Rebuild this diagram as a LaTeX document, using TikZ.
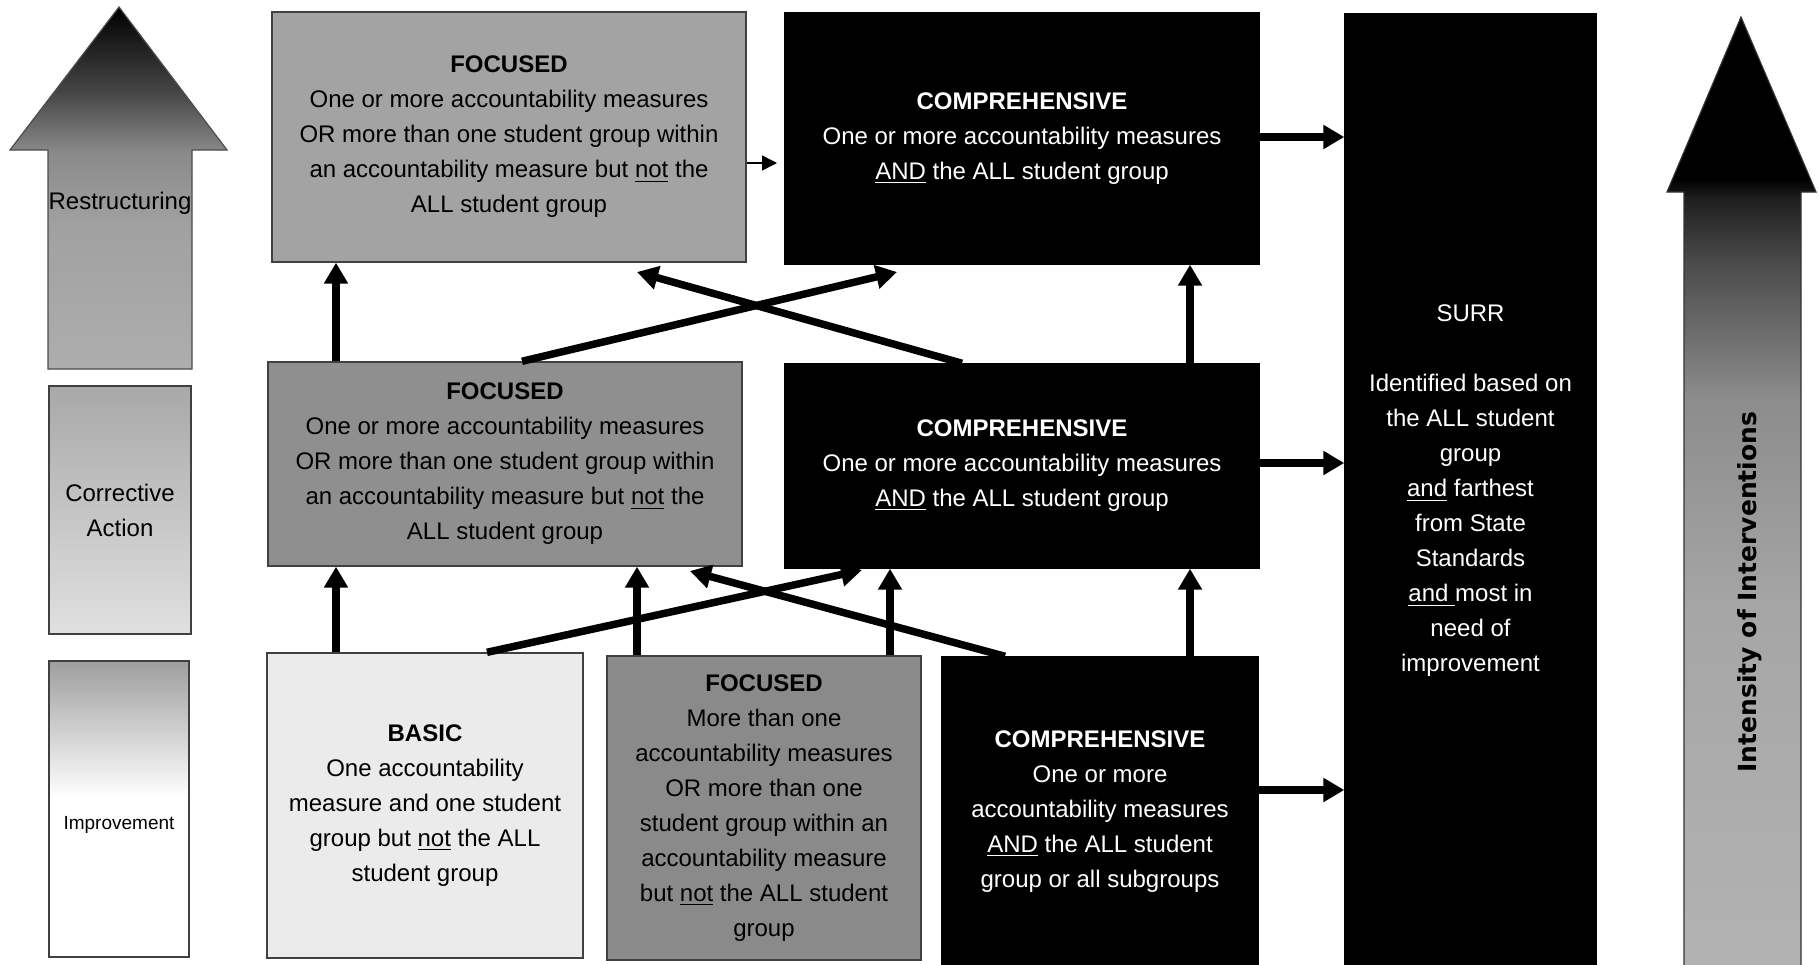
\documentclass[tikz,border=0pt]{standalone}
\usepackage{fontspec}
\setmainfont{Liberation Sans}
\newfontfamily\dejavu{DejaVu Sans}
\usetikzlibrary{arrows.meta,calc}

\pgfdeclareverticalshading{restrshade}{100bp}{color(0bp)=(black!32); color(25bp)=(black!32); color(45bp)=(black!37); color(55bp)=(black!46); color(63bp)=(black!72); color(75bp)=(black); color(100bp)=(black)}
\pgfdeclareverticalshading{imprshade}{100bp}{color(0bp)=(white); color(25bp)=(white); color(52bp)=(white); color(75bp)=(black!38); color(100bp)=(black!38)}
\pgfdeclareverticalshading{intshade}{100bp}{color(0bp)=(black!30); color(25bp)=(black!30); color(44bp)=(black!35); color(55bp)=(black!45); color(62bp)=(black!70); color(65.5bp)=(black!88); color(66.5bp)=(black); color(75bp)=(black); color(100bp)=(black)}

\begin{document}
\begin{tikzpicture}[x=0.5pt,y=-0.5pt,
  txt/.style={align=center, font=\fontsize{12}{17.5}\selectfont},
  box/.style={txt, draw=black!75, line width=0.7pt, inner sep=0pt, text=black},
  wbox/.style={box, fill=black, draw=black, text=white},
  bigarrow/.style={line width=3.75pt, -{Triangle[length=10.5pt,width=11.5pt]}},
  thinarrow/.style={line width=0.75pt, -{Triangle[length=7.5pt,width=7.5pt]}},
  outl/.style={draw=black!70, line width=0.6pt}
]
\useasboundingbox[fill=white] (0,0) rectangle (1819,964);

% ---- left column
\shadedraw[shading=restrshade, outl] (119,7) -- (227,150) -- (192,150) -- (192,369) -- (48,369) -- (48,150) -- (10,150) -- cycle;
\node[txt] (restr) at (120,203) {Restructuring};
\node[box, top color=black!34, bottom color=black!12, minimum width=71pt, minimum height=124pt] (CA) at (120,510) {Corrective\\Action};
\node[box, shade, shading=imprshade, minimum width=70pt, minimum height=148pt] (IM) at (119,809) {};
\node[txt, font=\fontsize{9.5}{12}\selectfont] (imptxt) at (119,825) {Improvement};

% ---- right arrow
\shadedraw[shading=intshade, draw=black!80, line width=0.6pt] (1741,17) -- (1816,192) -- (1801,192) -- (1801,972) -- (1684,972) -- (1684,192) -- (1667,192) -- cycle;
\node[rotate=90, font=\dejavu\bfseries\fontsize{12.5}{15}\selectfont] (INT) at (1750,592) {Intensity of Interventions};

% ---- boxes
\node[box, fill=black!36, minimum width=237pt, minimum height=125pt] (F3) at (509,137)
 {\textbf{FOCUSED}\\One or more accountability measures\\OR more than one student group within\\an accountability measure but \underline{not} the\\ALL student group};
\node[wbox, minimum width=237pt, minimum height=125.5pt] (C3) at (1022,138.5)
 {\textbf{COMPREHENSIVE}\\One or more accountability measures\\\underline{AND} the ALL student group};
\node[wbox, minimum width=125.5pt, minimum height=477pt] (SURR) at (1470.5,491)
 {SURR\\[17.5pt]Identified based on\\the ALL student\\group\\\underline{and} farthest\\from State\\Standards\\\underline{and }most in\\need of\\improvement};
\node[box, fill=black!44, minimum width=237pt, minimum height=102pt] (F2) at (505,464)
 {\textbf{FOCUSED}\\One or more accountability measures\\OR more than one student group within\\an accountability measure but \underline{not} the\\ALL student group};
\node[wbox, minimum width=237pt, minimum height=102pt] (C2) at (1022,466)
 {\textbf{COMPREHENSIVE}\\One or more accountability measures\\\underline{AND} the ALL student group};
\node[box, fill=black!8, minimum width=158pt, minimum height=152.5pt] (B1) at (425,805.5)
 {\textbf{BASIC}\\One accountability\\measure and one student\\group but \underline{not} the ALL\\student group};
\node[box, fill=black!46, minimum width=157pt, minimum height=152pt] (F1) at (764,808)
 {\textbf{FOCUSED}\\More than one\\accountability measures\\OR more than one\\student group within an\\accountability measure\\but \underline{not} the ALL student\\group};
\node[wbox, minimum width=158pt, minimum height=154.5pt] (C1) at (1100,811.5)
 {\textbf{COMPREHENSIVE}\\One or more\\accountability measures\\\underline{AND} the ALL student\\group or all subgroups};

% ---- helper coordinates
\coordinate (xBF) at (336,0);
\coordinate (xF1a) at (637,0);
\coordinate (xF1b) at (890,0);
\coordinate (xC) at (1190,0);
\coordinate (xd1) at (522,0);
\coordinate (xd2) at (962,0);
\coordinate (xd3) at (487,0);
\coordinate (xd4) at (1005,0);
\coordinate (d1) at (897,272);
\coordinate (d2) at (637,272);
\coordinate (d3) at (862,570);
\coordinate (d4) at (690,571);
\coordinate (y1) at (0,137);
\coordinate (y2) at (0,463);
\coordinate (y3) at (0,790);
\coordinate (y0) at (0,163);
\coordinate (thintip) at (777,163);

% ---- connectors
\draw[bigarrow] (B1.north -| xBF) -- (F2.south -| xBF);
\draw[bigarrow] (F2.north -| xBF) -- (F3.south -| xBF);
\draw[bigarrow] (F1.north -| xF1a) -- (F2.south -| xF1a);
\draw[bigarrow] (F1.north -| xF1b) -- (C2.south -| xF1b);
\draw[bigarrow] (C1.north -| xC) -- (C2.south -| xC);
\draw[bigarrow] (C2.north -| xC) -- (C3.south -| xC);
\draw[bigarrow] (F2.north -| xd1) -- (d1);
\draw[bigarrow] (C2.north -| xd2) -- (d2);
\draw[bigarrow] (B1.north -| xd3) -- (d3);
\draw[bigarrow] (C1.north -| xd4) -- (d4);
\draw[bigarrow] (C3.east |- y1) -- (SURR.west |- y1);
\draw[bigarrow] (C2.east |- y2) -- (SURR.west |- y2);
\draw[bigarrow] (C1.east |- y3) -- (SURR.west |- y3);
\draw[thinarrow] (F3.east |- y0) -- (thintip);
\end{tikzpicture}
\end{document}
